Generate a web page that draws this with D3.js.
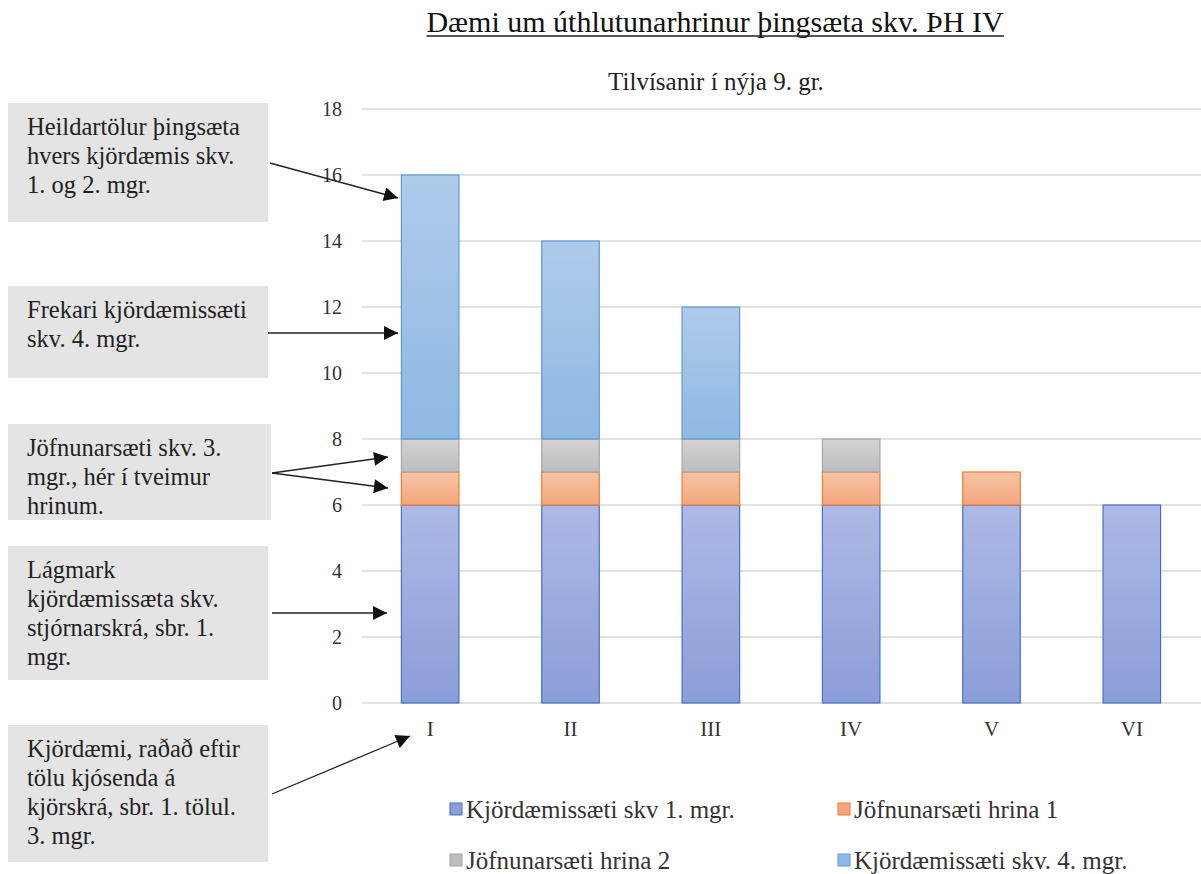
<!DOCTYPE html>
<html><head><meta charset="utf-8">
<script src="https://cdn.jsdelivr.net/npm/d3@7"></script>
<style>body{margin:0;background:#fff}svg{display:block}</style>
</head><body>
<svg id="c" width="1201" height="874"></svg>
<script>
const categories = ["I","II","III","IV","V","VI"];
const seriesNames = ["Kjördæmissæti skv 1. mgr.","Jöfnunarsæti hrina 1","Jöfnunarsæti hrina 2","Kjördæmissæti skv. 4. mgr."];
const s1 = [6,6,6,6,6,6];
const s2 = [1,1,1,1,1,0];
const s3 = [1,1,1,1,0,0];
const s4 = [8,6,4,0,0,0];
const yTicks = [0,2,4,6,8,10,12,14,16,18];
const notes = [
  ["Heildartölur þingsæta","hvers kjördæmis skv.","1. og 2. mgr."],
  ["Frekari kjördæmissæti","skv. 4.  mgr."],
  ["Jöfnunarsæti skv. 3.","mgr., hér í tveimur","hrinum."],
  ["Lágmark","kjördæmissæta skv.","stjórnarskrá, sbr. 1.","mgr."],
  ["Kjördæmi, raðað eftir","tölu kjósenda á","kjörskrá, sbr. 1. tölul.","3. mgr."]
];

const svg = d3.select("#c");
const font = "Liberation Serif, serif";
const fills = [["#adb9e6","#8c9ed9"],["#f8c3a5","#f3a77f"],["#d3d3d3","#bdbdbd"],["#aecbeb","#8fb8e3"]];
const strokes = ["#4472c4","#ed7d31","#a5a5a5","#5b9bd5"];
const defs = svg.append("defs");
fills.forEach((f,i)=>{
  const g = defs.append("linearGradient").attr("id","g"+i).attr("x1",0).attr("y1",0).attr("x2",0).attr("y2",1);
  g.append("stop").attr("offset","0%").attr("stop-color",f[0]);
  g.append("stop").attr("offset","100%").attr("stop-color",f[1]);
});
const mk = defs.append("marker").attr("id","arr").attr("viewBox","0 0 10 10").attr("refX",10).attr("refY",5)
  .attr("markerWidth",22).attr("markerHeight",14).attr("markerUnits","userSpaceOnUse").attr("orient","auto");
mk.append("path").attr("d","M0,0L10,5L0,10z").attr("fill","#111");

const x = d3.scaleBand().domain(categories).range([360,1202]).paddingInner(0.59).paddingOuter(0.295);
const y = d3.scaleLinear().domain([0,18]).range([703,109]);

function txt(sel){ return sel.style("font-family",font); }

// title
const t = txt(svg.append("text")).attr("x",715).attr("y",32).attr("text-anchor","middle")
  .attr("font-size",30).attr("fill","#111").text("Dæmi um úthlutunarhrinur  þingsæta skv. ÞH IV");
const bb = t.node().getBBox();
svg.append("line").attr("x1",bb.x).attr("x2",bb.x+bb.width).attr("y1",36).attr("y2",36).attr("stroke","#222").attr("stroke-width",1.3);
txt(svg.append("text")).attr("x",716).attr("y",90).attr("text-anchor","middle")
  .attr("font-size",25).attr("fill","#222").text("Tilvísanir  í nýja 9. gr.");

// grid
svg.append("g").selectAll("line").data(yTicks).join("line")
  .attr("x1",362).attr("x2",1201).attr("y1",d=>y(d)).attr("y2",d=>y(d))
  .attr("stroke","#d9d9d9").attr("stroke-width",1.3);
const yAxis = svg.append("g").attr("transform","translate(362,0)")
  .call(d3.axisLeft(y).tickValues(yTicks).tickSize(0).tickPadding(20));
yAxis.attr("font-family",null);
yAxis.select(".domain").remove();
yAxis.selectAll("text").style("font-family",font).attr("font-size",20).attr("fill","#333");

// bars
const data = categories.map((c,i)=>({c, v:[s1[i],s2[i],s3[i],s4[i]]}));
const stacked = d3.stack().keys([0,1,2,3]).value((d,k)=>d.v[k])(data);
stacked.forEach((layer,k)=>{
  svg.append("g").selectAll("rect").data(layer.filter(d=>d[1]-d[0]>0)).join("rect")
    .attr("x",d=>x(d.data.c)).attr("width",x.bandwidth())
    .attr("y",d=>y(d[1])).attr("height",d=>y(d[0])-y(d[1]))
    .attr("fill","url(#g"+k+")").attr("stroke",strokes[k]).attr("stroke-width",1.2);
});

// x axis labels
const xAxis = svg.append("g").attr("transform","translate(0,703)")
  .call(d3.axisBottom(x).tickSize(0).tickPadding(18));
xAxis.attr("font-family",null);
xAxis.select(".domain").remove();
xAxis.selectAll("text").style("font-family",font).attr("font-size",21).attr("fill","#333");

// legend
const legPos = [[450,818],[838,818],[450,869],[838,869]];
seriesNames.forEach((n,i)=>{
  const g = svg.append("g").attr("transform",`translate(${legPos[i][0]},${legPos[i][1]})`);
  g.append("rect").attr("x",0).attr("y",-15).attr("width",12).attr("height",12)
    .attr("fill",fills[i][1]).attr("stroke",strokes[i]).attr("stroke-width",1);
  txt(g.append("text")).attr("x",16).attr("y",0).attr("font-size",25)
    .attr("fill","#333").text(n);
});

// annotation boxes
const boxes = [[8,103,260,119],[8,286,260,92],[8,424,263,96],[8,546,260,134],[8,725,260,137]];
const lh = 29;
boxes.forEach((b,i)=>{
  svg.append("rect").attr("x",b[0]).attr("y",b[1]).attr("width",b[2]).attr("height",b[3]).attr("fill","#e4e4e4");
  const tx = txt(svg.append("text")).attr("font-size",24.5).attr("fill","#222");
  notes[i].forEach((l,j)=>tx.append("tspan").attr("x",27).attr("y",b[1]+32+j*lh).text(l));
});
// arrows
const arrows = [[270,163,398,198],[268,333,398,333],[272,473,388,457],[272,473,388,488],[272,613,387,613],[272,794,410,736]];
svg.append("g").selectAll("line").data(arrows).join("line")
  .attr("x1",d=>d[0]).attr("y1",d=>d[1]).attr("x2",d=>d[2]).attr("y2",d=>d[3])
  .attr("stroke","#222").attr("stroke-width",1.3).attr("marker-end","url(#arr)");
</script>
</body></html>
